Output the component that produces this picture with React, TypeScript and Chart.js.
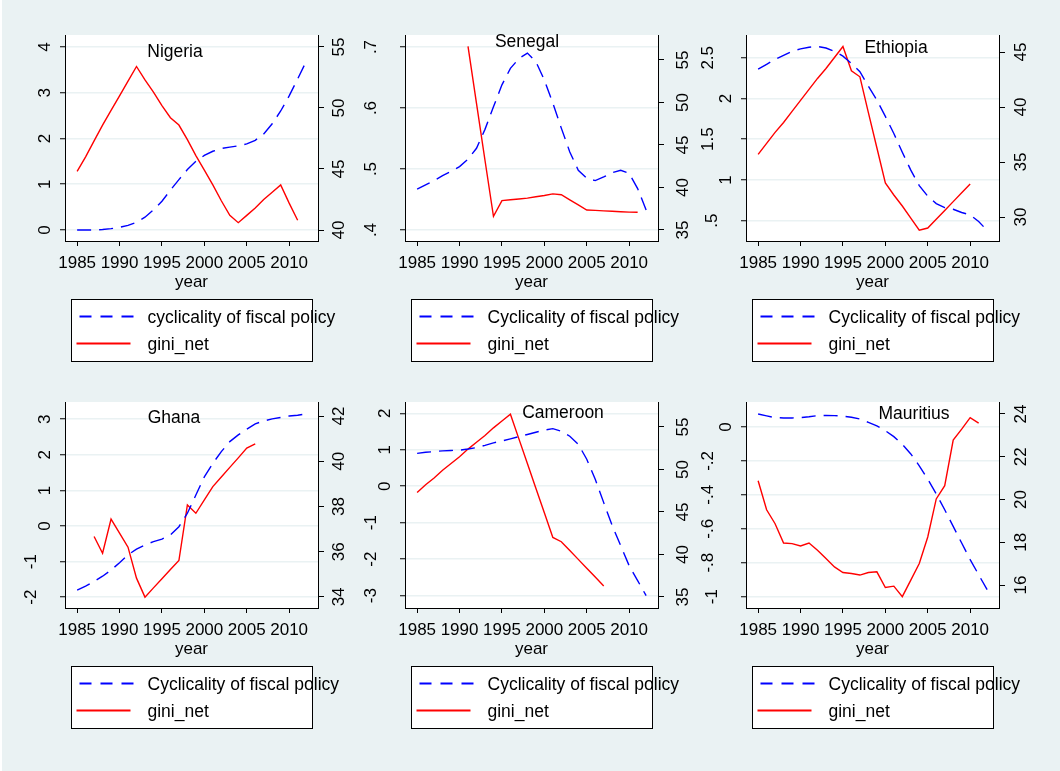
import React, { useEffect, useRef } from 'react';
import { Chart, registerables } from 'chart.js';

Chart.register(...registerables);

const FONT = '"Liberation Sans", Arial, Helvetica, sans-serif';
const BG = '#EAF2F3';

const years = [1985, 1986, 1987, 1988, 1989, 1990, 1991, 1992, 1993, 1994, 1995, 1996, 1997, 1998,
  1999, 2000, 2001, 2002, 2003, 2004, 2005, 2006, 2007, 2008, 2009, 2010, 2011, 2012];
const yearTicks = [1985, 1990, 1995, 2000, 2005, 2010];

// Nigeria
const nigeriaCyc = [0.0, 0.0, 0.0, 0.01, 0.03, 0.06, 0.1, 0.17, 0.28, 0.44, 0.63, 0.87, 1.1, 1.32,
  1.5, 1.63, 1.72, 1.78, 1.81, 1.84, 1.88, 1.96, 2.1, 2.32, 2.6, 2.93, 3.3, 3.68];
const nigeriaGini = [44.8, 46.0, 47.3, 48.6, 49.8, 51.0, 52.2, 53.4, 52.3, 51.3, 50.2, 49.2, 48.6, 47.4,
  46.1, 44.9, 43.7, 42.4, 41.2, 40.6, 41.2, 41.8, 42.5, 43.1, 43.7, 42.2, 40.8, null];
const nigeriaLeftTicks = [0, 1, 2, 3, 4];
const nigeriaRightTicks = [40, 45, 50, 55];

// Senegal
const senegalCyc = [0.467, 0.474, 0.481, 0.489, 0.496, 0.504, 0.516, 0.534, 0.565, 0.602, 0.638, 0.665, 0.681, 0.69,
  0.676, 0.646, 0.608, 0.567, 0.528, 0.498, 0.485, 0.481, 0.487, 0.494, 0.498, 0.493, 0.468, 0.433];
const senegalGini = [null, null, null, null, null, null, 56.6, 49.9, 43.2, 36.6, 38.45, 38.55, 38.65, 38.75,
  38.9, 39.05, 39.25, 39.15, 38.55, 37.95, 37.35, 37.3, 37.25, 37.2, 37.15, 37.1, 37.08, null];
const senegalLeftTicks = [0.4, 0.5, 0.6, 0.7];
const senegalRightTicks = [35, 40, 45, 50, 55];

// Ethiopia
const ethiopiaCyc = [2.36, 2.42, 2.48, 2.53, 2.58, 2.61, 2.63, 2.64, 2.62, 2.58, 2.52, 2.43, 2.33, 2.15,
  1.98, 1.78, 1.57, 1.34, 1.12, 0.93, 0.8, 0.71, 0.66, 0.64, 0.6, 0.57, 0.49, 0.38];
const ethiopiaGini = [35.7, 36.7, 37.7, 38.6, 39.6, 40.6, 41.6, 42.6, 43.5, 44.5, 45.5, 43.3, 42.75, 39.5,
  36.3, 33.1, 32.0, 31.0, 29.9, 28.8, 29.0, 29.8, 30.6, 31.4, 32.2, 33.0, null, null];
const ethiopiaLeftTicks = [0.5, 1, 1.5, 2, 2.5];
const ethiopiaRightTicks = [30, 35, 40, 45];

// Ghana
const ghanaCyc = [-1.8, -1.69, -1.56, -1.41, -1.24, -1.03, -0.81, -0.65, -0.53, -0.44, -0.37, -0.25, -0.02, 0.36,
  0.87, 1.38, 1.76, 2.09, 2.37, 2.56, 2.72, 2.87, 2.95, 3.01, 3.05, 3.09, 3.11, 3.15];
const ghanaGini = [null, null, 36.67, 35.93, 37.44, 36.82, 36.2, 34.83, 33.99, 34.4, 34.8, 35.21, 35.61, 38.07,
  37.7, 38.29, 38.88, 39.3, 39.73, 40.15, 40.58, 40.77, null, null, null, null, null, null];
const ghanaLeftTicks = [-2, -1, 0, 1, 2, 3];
const ghanaRightTicks = [34, 36, 38, 40, 42];

// Cameroon
const cameroonCyc = [0.9, 0.93, 0.95, 0.97, 0.98, 0.99, 1.02, 1.06, 1.12, 1.19, 1.24, 1.3, 1.36, 1.42,
  1.48, 1.54, 1.58, 1.51, 1.37, 1.15, 0.74, 0.19, -0.45, -1.08, -1.63, -2.18, -2.59, -3.0];
const cameroonGini = [47.3, 48.2, 49.0, 49.9, 50.7, 51.5, 52.4, 53.2, 54.0, 54.9, 55.7, 56.5, 53.6, 50.7,
  47.8, 44.9, 42.0, 41.5, 40.46, 39.42, 38.38, 37.34, 36.3, null, null, null, null, null];
const cameroonLeftTicks = [-3, -2, -1, 0, 1, 2];
const cameroonRightTicks = [35, 40, 45, 50, 55];

// Mauritius
const mauritiusCyc = [0.076, 0.065, 0.055, 0.053, 0.053, 0.055, 0.06, 0.067, 0.068, 0.067, 0.064, 0.057, 0.047, 0.027,
  0.006, -0.022, -0.057, -0.102, -0.159, -0.229, -0.308, -0.394, -0.488, -0.586, -0.684, -0.782, -0.871, -0.959];
const mauritiusGini = [20.88, 19.52, 18.87, 17.97, 17.94, 17.83, 17.97, 17.63, 17.24, 16.85, 16.59, 16.54, 16.47, 16.59,
  16.62, 15.89, 15.95, 15.46, 16.23, 17.01, 18.25, 20.03, 20.65, 22.78, 23.29, 23.83, 23.57, null];
const mauritiusLeftTicks = [-1, -0.8, -0.6, -0.4, -0.2, 0];
const mauritiusRightTicks = [16, 18, 20, 22, 24];

type Panel = {
  name: string;
  legend: string;
  cyc: (number | null)[];
  gini: (number | null)[];
  leftTicks: number[];
  rightTicks: number[];
  leftRange: [number, number];
  rightRange: [number, number];
  col: number;
  row: number;
  titleAt: [number, number];
};

const panels: Panel[] = [
  { name: 'Nigeria', legend: 'cyclicality of fiscal policy', cyc: nigeriaCyc, gini: nigeriaGini,
    leftTicks: nigeriaLeftTicks, rightTicks: nigeriaRightTicks, leftRange: [-0.24, 4.26], rightRange: [39.1, 55.98],
    col: 0, row: 0, titleAt: [110, 17] },
  { name: 'Senegal', legend: 'Cyclicality of fiscal policy', cyc: senegalCyc, gini: senegalGini,
    leftTicks: senegalLeftTicks, rightTicks: senegalRightTicks, leftRange: [0.382, 0.7197], rightRange: [33.7, 57.94],
    col: 1, row: 0, titleAt: [122, 7] },
  { name: 'Ethiopia', legend: 'Cyclicality of fiscal policy', cyc: ethiopiaCyc, gini: ethiopiaGini,
    leftTicks: ethiopiaLeftTicks, rightTicks: ethiopiaRightTicks, leftRange: [0.25, 2.78], rightRange: [27.82, 46.55],
    col: 2, row: 0, titleAt: [150, 13] },
  { name: 'Ghana', legend: 'Cyclicality of fiscal policy', cyc: ghanaCyc, gini: ghanaGini,
    leftTicks: ghanaLeftTicks, rightTicks: ghanaRightTicks, leftRange: [-2.303, 3.483], rightRange: [33.51, 42.62],
    col: 0, row: 1, titleAt: [109, 16] },
  { name: 'Cameroon', legend: 'Cyclicality of fiscal policy', cyc: cameroonCyc, gini: cameroonGini,
    leftTicks: cameroonLeftTicks, rightTicks: cameroonRightTicks, leftRange: [-3.34, 2.31], rightRange: [33.7, 57.94],
    col: 1, row: 1, titleAt: [158, 11] },
  { name: 'Mauritius', legend: 'Cyclicality of fiscal policy', cyc: mauritiusCyc, gini: mauritiusGini,
    leftTicks: mauritiusLeftTicks, rightTicks: mauritiusRightTicks, leftRange: [-1.067, 0.147], rightRange: [14.93, 24.56],
    col: 2, row: 1, titleAt: [168, 12] },
];

const PLOT_LEFT = [63, 403, 744];
const PLOT_TOP = [35, 402];
const RIGHT_GAP = [21, 25, 22];
const CW = 360;
const CH = 370;

const fmt = (v: number) => String(v).replace(/^(-?)0\./, '$1.');

function drawRot(ctx: CanvasRenderingContext2D, text: string, x: number, y: number) {
  ctx.save();
  ctx.translate(x, y);
  ctx.rotate(-Math.PI / 2);
  ctx.textAlign = 'center';
  ctx.textBaseline = 'middle';
  ctx.fillText(text, 0, 0);
  ctx.restore();
}

function PanelChart({ p }: { p: Panel }) {
  const ref = useRef<HTMLCanvasElement>(null);
  useEffect(() => {
    const canvas = ref.current;
    if (!canvas) return;
    const plugin = {
      id: 'stataDecor',
      beforeDraw(chart: any) {
        const { ctx, chartArea: ca } = chart;
        ctx.save();
        ctx.fillStyle = '#FFFFFF';
        ctx.fillRect(ca.left, ca.top, ca.right - ca.left, ca.bottom - ca.top);
        ctx.restore();
      },
      afterDraw(chart: any) {
        const { ctx, chartArea: ca } = chart;
        ctx.save();
        ctx.fillStyle = '#000';
        ctx.font = `17px ${FONT}`;
        const yL = chart.scales.yL;
        yL.ticks.forEach((t: any) => {
          const label = fmt(t.value);
          const off = label.length === 1 ? 20 : label.length === 2 ? 34 : 37.5;
          drawRot(ctx, label, ca.left - off, yL.getPixelForValue(t.value));
        });
        const yR = chart.scales.yR;
        yR.ticks.forEach((t: any) => {
          drawRot(ctx, fmt(t.value), ca.right + RIGHT_GAP[p.col], yR.getPixelForValue(t.value));
        });
        // title
        ctx.font = `17.5px ${FONT}`;
        ctx.textAlign = 'center';
        ctx.textBaseline = 'middle';
        ctx.fillText(p.name, ca.left + p.titleAt[0], ca.top + p.titleAt[1]);
        // legend
        const bx = Math.round(ca.left + 6) + 0.5;
        const by = Math.round(ca.top + 264) + 0.5;
        const bw = 241;
        const bh = 62;
        ctx.fillStyle = '#FFFFFF';
        ctx.fillRect(bx, by, bw, bh);
        ctx.lineWidth = 2;
        ctx.strokeStyle = '#0000FF';
        ctx.setLineDash([12, 9]);
        ctx.beginPath();
        ctx.moveTo(bx + 8, by + 17);
        ctx.lineTo(bx + 63, by + 17);
        ctx.stroke();
        ctx.setLineDash([]);
        ctx.strokeStyle = '#FF0000';
        ctx.beginPath();
        ctx.moveTo(bx + 5, by + 44);
        ctx.lineTo(bx + 59, by + 44);
        ctx.stroke();
        ctx.fillStyle = '#000';
        ctx.textAlign = 'left';
        ctx.fillText(p.legend, bx + 76, by + 18.5);
        ctx.fillText('gini_net', bx + 76, by + 45.5);
        ctx.lineWidth = 1;
        ctx.strokeStyle = '#000';
        ctx.strokeRect(bx, by, bw, bh);
        ctx.restore();
      },
    };
    const chart = new Chart(canvas, {
      type: 'line',
      data: {
        datasets: [
          {
            label: p.legend,
            data: years.map((y, i) => ({ x: y, y: p.cyc[i] })) as any,
            yAxisID: 'yL',
            borderColor: '#0000FF',
            borderWidth: 1.4,
            borderDash: [14, 8],
            pointRadius: 0,
            tension: 0,
            fill: false,
            spanGaps: false,
          },
          {
            label: 'gini_net',
            data: years.map((y, i) => ({ x: y, y: p.gini[i] })) as any,
            yAxisID: 'yR',
            borderColor: '#FF0000',
            borderWidth: 1.4,
            pointRadius: 0,
            tension: 0,
            fill: false,
            spanGaps: false,
          },
        ],
      },
      options: {
        animation: false,
        responsive: false,
        maintainAspectRatio: false,
        events: [],
        layout: { padding: { top: 35, bottom: CH - 35 - 206 - 52, left: 0, right: 0 } },
        plugins: { legend: { display: false }, tooltip: { enabled: false }, title: { display: false } },
        scales: {
          x: {
            type: 'linear',
            position: 'bottom',
            min: 1983.57,
            max: 2013.4,
            afterBuildTicks: (s: any) => { s.ticks = yearTicks.map((v) => ({ value: v })); },
            afterFit: (s: any) => { s.height = 52; },
            grid: { drawOnChartArea: false, drawTicks: true, tickLength: 5, tickColor: '#000', tickWidth: 1 },
            border: { display: true, color: '#000', width: 1 },
            ticks: {
              autoSkip: false, maxRotation: 0, minRotation: 0, padding: 7, color: '#000',
              font: { size: 17, family: FONT }, callback: (v: any) => String(v),
            },
            title: { display: true, text: 'year', color: '#000', font: { size: 17, family: FONT }, padding: { top: 0, bottom: 0 } },
          },
          yL: {
            type: 'linear',
            position: 'left',
            min: p.leftRange[0],
            max: p.leftRange[1],
            afterBuildTicks: (s: any) => { s.ticks = p.leftTicks.map((v) => ({ value: v })); },
            afterFit: (s: any) => { s.width = 63; },
            grid: { color: BG, lineWidth: 1.5, drawTicks: true, tickLength: 5, tickColor: '#000', tickWidth: 1 },
            border: { display: true, color: '#000', width: 1 },
            ticks: { display: false },
          },
          yR: {
            type: 'linear',
            position: 'right',
            min: p.rightRange[0],
            max: p.rightRange[1],
            afterBuildTicks: (s: any) => { s.ticks = p.rightTicks.map((v) => ({ value: v })); },
            afterFit: (s: any) => { s.width = CW - 316; },
            grid: { drawOnChartArea: false, drawTicks: true, tickLength: 6, tickColor: '#000', tickWidth: 1 },
            border: { display: true, color: '#000', width: 1 },
            ticks: { display: false },
          },
        },
      } as any,
      plugins: [plugin as any],
    });
    return () => chart.destroy();
  }, [p]);
  const left = PLOT_LEFT[p.col] - 63;
  const top = PLOT_TOP[p.row] - 35;
  return (
    <canvas
      ref={ref}
      width={CW}
      height={CH}
      style={{ position: 'absolute', left, top, width: CW, height: CH }}
    />
  );
}

export default function App() {
  return (
    <div
      style={{
        position: 'fixed',
        left: 0,
        top: 0,
        width: 1060,
        height: 771,
        background: BG,
        overflow: 'hidden',
        borderLeft: '2px solid #FFFFFF',
        boxSizing: 'border-box',
      }}
    >
      {panels.map((p) => (
        <PanelChart key={p.name} p={p} />
      ))}
    </div>
  );
}
